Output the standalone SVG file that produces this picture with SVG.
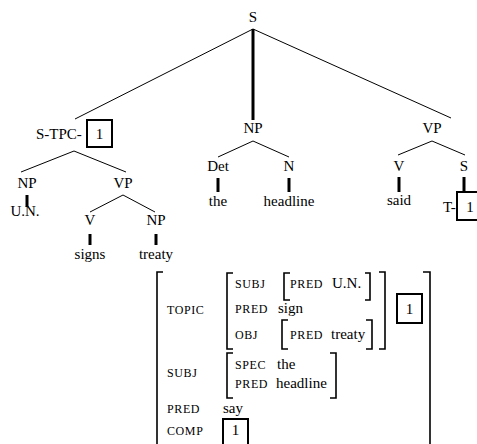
<svg xmlns="http://www.w3.org/2000/svg" width="477" height="444" viewBox="0 0 477 444">
<style>
text{font-family:"Liberation Serif","Times New Roman",serif;fill:#000}
.t{font-size:15px;text-anchor:middle}
.v{font-size:15px}
.a{font-size:12px;letter-spacing:0.6px}
.e{stroke:#000;stroke-width:1;fill:none}
.b{stroke:#000;stroke-width:3;fill:none}
.x{stroke:#000;stroke-width:2;fill:none}
.br{stroke:#000;stroke-width:1.6;fill:none}
</style>
<rect width="477" height="444" fill="#fff"/>
<g id="connectors">
<line class="e" x1="253" y1="29" x2="75" y2="119"/>
<line class="b" x1="253" y1="29" x2="253" y2="120"/>
<line class="e" x1="253" y1="29" x2="451" y2="118"/>
<line class="e" x1="74" y1="151" x2="21" y2="172"/>
<line class="e" x1="74" y1="151" x2="126" y2="172"/>
<line class="b" x1="27" y1="195" x2="27" y2="207"/>
<line class="e" x1="123" y1="195" x2="90" y2="212"/>
<line class="e" x1="123" y1="195" x2="155" y2="212"/>
<line class="b" x1="90" y1="234" x2="90" y2="245"/>
<line class="b" x1="156" y1="234" x2="156" y2="245"/>
<line class="e" x1="253" y1="141" x2="218" y2="157"/>
<line class="e" x1="253" y1="141" x2="289" y2="157"/>
<line class="b" x1="218" y1="178" x2="218" y2="192"/>
<line class="b" x1="289" y1="178" x2="289" y2="192"/>
<line class="e" x1="432" y1="141" x2="398" y2="155"/>
<line class="e" x1="432" y1="141" x2="465" y2="155"/>
<line class="b" x1="399" y1="177" x2="399" y2="192"/>
<line class="b" x1="464" y1="177" x2="464" y2="192"/>
</g>
<g id="n-S"><text class="t" x="253" y="22">S</text></g>
<g id="n-STPC"><text class="v" x="36" y="139">S-TPC-</text><rect class="x" x="87" y="120" width="25" height="27"/><text class="t" x="99.5" y="139">1</text></g>
<g id="n-NP"><text class="t" x="253" y="133">NP</text></g>
<g id="n-VP"><text class="t" x="432" y="133">VP</text></g>
<g id="n-NP2"><text class="t" x="27" y="188">NP</text></g>
<g id="n-VP2"><text class="t" x="123" y="188">VP</text></g>
<g id="n-UN"><text class="t" x="25" y="216">U.N.</text></g>
<g id="n-V2"><text class="t" x="90" y="225">V</text></g>
<g id="n-NP3"><text class="t" x="156" y="225">NP</text></g>
<g id="n-signs"><text class="t" x="90" y="259">signs</text></g>
<g id="n-treaty"><text class="t" x="156" y="259">treaty</text></g>
<g id="n-Det"><text class="t" x="218" y="171">Det</text></g>
<g id="n-N"><text class="t" x="289" y="171">N</text></g>
<g id="n-the"><text class="t" x="218" y="206">the</text></g>
<g id="n-headline"><text class="t" x="289" y="206">headline</text></g>
<g id="n-V"><text class="t" x="399" y="171">V</text></g>
<g id="n-S2"><text class="t" x="464" y="171">S</text></g>
<g id="n-said"><text class="t" x="399" y="205">said</text></g>
<g id="n-T"><text class="v" x="443" y="212">T-</text><rect class="x" x="457" y="192" width="26" height="28"/><text class="t" x="470" y="212">1</text></g>
<g id="avm">
<path class="br" d="M163,272 H157 V446 M423,272 H430 V446"/>
<text class="a" x="167" y="314">TOPIC</text>
<path class="br" d="M233,273 H227 V349 H233 M379,272 H385 V349 H379"/>
<text class="a" x="235" y="288">SUBJ</text>
<path class="br" d="M290,273 H284 V300 H290 M365,273 H370 V300 H365"/>
<text class="a" x="290" y="288">PRED</text>
<text class="v" x="332" y="288">U.N.</text>
<text class="a" x="235" y="313">PRED</text>
<text class="v" x="278" y="313">sign</text>
<text class="a" x="235" y="339">OBJ</text>
<path class="br" d="M288,320 H282 V349 H288 M366,320 H372 V349 H366"/>
<text class="a" x="290" y="339">PRED</text>
<text class="v" x="331" y="339">treaty</text>
<rect class="x" x="397" y="294" width="25" height="29"/>
<text class="t" x="409.5" y="314">1</text>
<text class="a" x="167" y="377">SUBJ</text>
<path class="br" d="M233,353 H227 V398 H233 M330,353 H336 V398 H330"/>
<text class="a" x="235" y="369">SPEC</text>
<text class="v" x="277" y="369">the</text>
<text class="a" x="235" y="388">PRED</text>
<text class="v" x="276" y="388">headline</text>
<text class="a" x="167" y="413">PRED</text>
<text class="v" x="223" y="413">say</text>
<text class="a" x="167" y="435">COMP</text>
<rect class="x" x="223" y="419" width="25" height="28"/>
<text class="t" x="235.5" y="435">1</text>
</g>
</svg>
